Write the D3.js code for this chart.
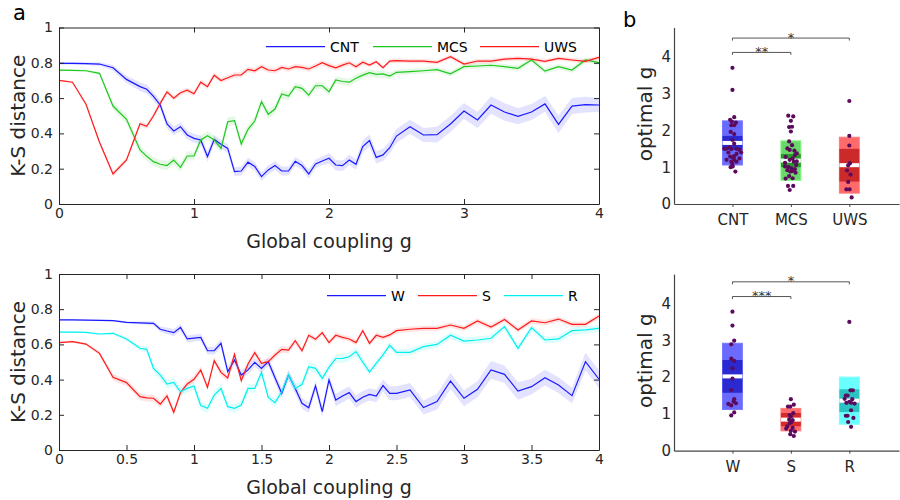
<!DOCTYPE html>
<html><head><meta charset="utf-8">
<script src="https://cdn.jsdelivr.net/npm/d3@7"></script>
<style>body{margin:0;background:#fff} svg{display:block} text{font-family:"DejaVu Sans",sans-serif}</style>
</head><body><svg id="c" width="900" height="500"></svg>
<script>
// ---------- DATA ----------
const couplingG = [0,0.1,0.2,0.3,0.4,0.5,0.6,0.65,0.7,0.75,
 0.8,0.85,0.9,0.95,1.0,1.05,1.1,1.15,1.2,1.25,
 1.3,1.35,1.4,1.45,1.5,1.55,1.6,1.65,1.7,1.75,
 1.8,1.85,1.9,1.95,2.0,2.05,2.1,2.15,2.2,2.25,
 2.3,2.35,2.4,2.45,2.5,2.6,2.7,2.8,2.9,3.0,
 3.1,3.2,3.3,3.4,3.5,3.6,3.7,3.8,3.9,4.0];

const ksCNT = [0.797,0.797,0.795,0.793,0.772,0.706,0.665,0.650,0.610,0.561,
 0.454,0.414,0.438,0.391,0.372,0.363,0.269,0.366,0.338,0.315,
 0.183,0.187,0.237,0.213,0.155,0.193,0.218,0.187,0.187,0.242,
 0.218,0.170,0.227,0.244,0.259,0.221,0.217,0.249,0.225,0.325,
 0.359,0.264,0.278,0.319,0.385,0.438,0.391,0.393,0.453,0.527,
 0.476,0.561,0.521,0.497,0.521,0.567,0.451,0.555,0.563,0.561];
const ksMCS = [0.759,0.757,0.755,0.740,0.555,0.480,0.306,0.270,0.240,0.225,
 0.218,0.249,0.208,0.272,0.272,0.363,0.387,0.363,0.315,0.466,
 0.472,0.340,0.423,0.470,0.580,0.508,0.538,0.623,0.612,0.665,
 0.655,0.617,0.670,0.670,0.636,0.703,0.694,0.690,0.712,0.730,
 0.744,0.735,0.737,0.725,0.746,0.750,0.755,0.761,0.738,0.778,
 0.782,0.786,0.778,0.769,0.816,0.753,0.778,0.759,0.816,0.801];
const ksUWS = [0.700,0.690,0.565,0.350,0.170,0.250,0.455,0.440,0.500,0.570,
 0.635,0.600,0.630,0.645,0.625,0.690,0.665,0.730,0.700,0.715,
 0.731,0.731,0.763,0.755,0.778,0.759,0.755,0.774,0.765,0.778,
 0.774,0.765,0.782,0.801,0.784,0.772,0.787,0.800,0.778,0.803,
 0.787,0.806,0.772,0.810,0.812,0.810,0.810,0.803,0.835,0.793,
 0.810,0.810,0.821,0.825,0.821,0.808,0.825,0.816,0.808,0.831];

const errCNT = [0.008,0.008,0.008,0.010,0.015,0.020,0.025,0.025,0.025,0.025,
 0.025,0.025,0.025,0.025,0.025,0.025,0.030,0.025,0.025,0.025,
 0.025,0.025,0.025,0.025,0.025,0.025,0.025,0.025,0.025,0.025,
 0.025,0.025,0.025,0.025,0.030,0.030,0.030,0.030,0.030,0.035,
 0.035,0.035,0.035,0.035,0.040,0.040,0.040,0.045,0.045,0.045,
 0.045,0.050,0.050,0.045,0.045,0.045,0.050,0.045,0.045,0.040];
const errMCS = [0.005,0.005,0.005,0.010,0.020,0.025,0.025,0.025,0.025,0.025,
 0.025,0.025,0.025,0.025,0.025,0.025,0.025,0.025,0.025,0.025,
 0.025,0.025,0.025,0.025,0.025,0.025,0.025,0.025,0.025,0.020,
 0.020,0.020,0.020,0.020,0.020,0.020,0.020,0.020,0.020,0.020,
 0.020,0.020,0.020,0.020,0.015,0.015,0.015,0.015,0.015,0.015,
 0.015,0.015,0.015,0.015,0.015,0.015,0.015,0.015,0.015,0.015];
const errUWS = [0.005,0.005,0.008,0.012,0.015,0.015,0.015,0.015,0.015,0.015,
 0.015,0.015,0.015,0.015,0.015,0.015,0.015,0.015,0.015,0.015,
 0.015,0.015,0.015,0.015,0.015,0.015,0.015,0.015,0.015,0.015,
 0.015,0.015,0.015,0.015,0.015,0.015,0.015,0.015,0.015,0.015,
 0.012,0.012,0.012,0.012,0.012,0.012,0.012,0.012,0.012,0.012,
 0.012,0.012,0.012,0.012,0.012,0.012,0.012,0.012,0.012,0.012];

const ksW = [0.739,0.739,0.738,0.737,0.735,0.725,0.722,0.721,0.720,0.686,
 0.676,0.667,0.696,0.631,0.636,0.640,0.564,0.564,0.606,0.445,
 0.511,0.426,0.455,0.498,0.464,0.502,0.410,0.322,0.426,0.350,
 0.265,0.240,0.364,0.218,0.398,0.284,0.307,0.326,0.275,0.300,
 0.316,0.307,0.366,0.322,0.322,0.341,0.241,0.275,0.392,0.294,
 0.345,0.455,0.430,0.335,0.360,0.411,0.369,0.309,0.502,0.402];
const ksS = [0.610,0.616,0.602,0.549,0.413,0.383,0.303,0.296,0.294,0.261,
 0.307,0.214,0.326,0.375,0.402,0.455,0.356,0.508,0.441,0.409,
 0.544,0.394,0.489,0.553,0.492,0.502,0.540,0.572,0.568,0.621,
 0.564,0.652,0.629,0.667,0.610,0.652,0.640,0.631,0.610,0.678,
 0.606,0.652,0.640,0.654,0.678,0.686,0.691,0.691,0.710,0.691,
 0.733,0.699,0.742,0.682,0.733,0.723,0.744,0.714,0.714,0.761];
const ksR = [0.670,0.670,0.668,0.659,0.663,0.631,0.578,0.572,0.464,0.426,
 0.375,0.384,0.331,0.350,0.364,0.252,0.237,0.312,0.350,0.246,
 0.237,0.256,0.350,0.350,0.441,0.299,0.269,0.331,0.426,0.350,
 0.373,0.473,0.464,0.407,0.470,0.520,0.521,0.530,0.559,0.500,
 0.443,0.492,0.540,0.595,0.555,0.555,0.587,0.600,0.652,0.619,
 0.625,0.635,0.701,0.578,0.695,0.625,0.631,0.678,0.682,0.691];

const errW = [0.004,0.004,0.004,0.004,0.005,0.006,0.008,0.010,0.012,0.015,
 0.018,0.020,0.020,0.020,0.020,0.020,0.022,0.022,0.025,0.025,
 0.025,0.025,0.025,0.025,0.025,0.025,0.030,0.030,0.030,0.030,
 0.030,0.030,0.030,0.030,0.030,0.035,0.035,0.035,0.035,0.035,
 0.035,0.035,0.035,0.040,0.040,0.040,0.040,0.045,0.045,0.045,
 0.045,0.050,0.050,0.050,0.045,0.045,0.045,0.045,0.050,0.050];
const errS = [0.005,0.006,0.008,0.012,0.018,0.020,0.020,0.020,0.020,0.020,
 0.020,0.020,0.020,0.020,0.020,0.020,0.020,0.020,0.020,0.020,
 0.020,0.020,0.020,0.020,0.020,0.020,0.020,0.020,0.020,0.020,
 0.015,0.015,0.015,0.015,0.015,0.015,0.015,0.015,0.015,0.015,
 0.015,0.015,0.015,0.015,0.015,0.015,0.015,0.015,0.015,0.015,
 0.015,0.015,0.015,0.015,0.015,0.015,0.015,0.015,0.015,0.015];
const errR = [0.004,0.004,0.005,0.006,0.008,0.012,0.015,0.020,0.025,0.025,
 0.025,0.025,0.025,0.025,0.025,0.025,0.025,0.025,0.025,0.025,
 0.025,0.025,0.025,0.025,0.025,0.025,0.025,0.025,0.025,0.025,
 0.025,0.025,0.025,0.025,0.025,0.025,0.025,0.025,0.025,0.025,
 0.020,0.020,0.020,0.020,0.020,0.020,0.020,0.020,0.020,0.020,
 0.020,0.020,0.020,0.020,0.020,0.020,0.020,0.020,0.020,0.020];

const ticksTopX = [0,1,2,3,4];
const ticksBotX = [0,0.5,1,1.5,2,2.5,3,3.5,4];
const ticksKS = [0,0.2,0.4,0.6,0.8,1];
const ticksOpt = [0,1,2,3,4];

const groupsTop = ["CNT","MCS","UWS"];
const groupsBot = ["W","S","R"];

// optimal g: individual values and horizontal jitter (category units)
const optCNT = [3.70,3.10,2.36,2.29,2.24,2.21,2.14,2.14,1.96,1.90,1.74,1.64,1.54,1.50,1.50,1.49,1.50,1.47,1.40,1.40,1.36,1.30,1.29,1.27,1.24,1.20,1.20,1.15,1.15,1.09,1.02,1.00,0.88];
const jitCNT = [0,0,0.03,-0.04,-0.01,0.06,-0.02,0.03,-0.03,0.03,0,0.03,-0.05,-0.14,-0.11,-0.02,0.07,0.12,0.15,-0.07,0.07,0.03,-0.04,0,0.12,0.03,-0.1,-0.02,0.07,0,0.005,-0.03,0.05];
const optMCS = [2.40,2.38,2.26,2.10,2.09,1.97,1.70,1.60,1.51,1.47,1.45,1.38,1.33,1.28,1.24,1.20,1.16,1.15,1.12,1.06,1.02,1.00,0.97,0.95,0.92,0.90,0.88,0.85,0.76,0.70,0.69,0.49,0.49,0.38];
const jitMCS = [-0.045,0.04,0,0.02,-0.03,0,-0.03,0.02,-0.06,-0.02,0.06,0.1,0.07,-0.09,0.03,-0.02,0.1,0.05,-0.1,0.09,-0.1,-0.04,0.01,0.07,-0.06,0.03,-0.01,0.08,-0.03,0.03,-0.09,-0.05,0.04,-0.02];
const optUWS = [2.80,1.85,1.59,1.11,1.05,0.91,0.80,0.60,0.40,0.40,0.18];
const jitUWS = [0,0,0,0.01,-0.02,-0.04,0.02,-0.02,-0.05,0.005,0.04];
const optW = [3.78,3.40,2.99,2.89,2.50,2.44,2.24,1.96,1.65,1.40,1.34,1.29,1.27,1.23,1.04,0.96];
const jitW = [0,0,0.03,-0.02,-0.02,0.03,0,0,-0.02,0.03,0.02,0.06,-0.07,-0.02,0.03,-0.02];
const optS = [1.40,1.25,1.20,1.20,1.02,0.97,0.93,0.85,0.83,0.78,0.75,0.66,0.62,0.60,0.54,0.52,0.45,0.40];
const jitS = [0,0.05,-0.05,-0.01,0.04,-0.02,0,-0.03,0.03,0.01,-0.02,-0.06,0.03,-0.08,0,0.07,-0.01,0.05];
const optR = [3.50,1.64,1.64,1.50,1.50,1.41,1.40,1.33,1.30,1.30,1.28,1.10,0.95,0.95,0.89,0.78,0.65];
const jitR = [0,0.02,0.06,-0.06,-0.03,-0.08,0.05,0,-0.05,0.03,0.09,0.03,-0.06,-0.03,0.07,-0.02,0.03];

// summary: mean, SD (light box), CI (dark box)
const meanTop = [1.66,1.18,1.055];
const sdTop = [0.60,0.535,0.76];
const ciTop = [0.19,0.18,0.445];
const meanBot = [2.02,0.845,1.36];
const sdBot = [0.90,0.305,0.64];
const ciBot = [0.445,0.18,0.31];

const sigTop = [{a:1,b:2,label:"**",h:4.12},{a:1,b:3,label:"*",h:4.51}];
const sigBot = [{a:1,b:2,label:"***",h:4.19},{a:1,b:3,label:"*",h:4.59}];

// ---------- DRAW ----------
const svg = d3.select("#c");
const AX = "#262626";

function linePanel(yTop, yBot, xTicks, series, legend, labelY){
  const x = d3.scaleLinear().domain([0,4]).range([59,599]);
  const y = d3.scaleLinear().domain([0,1]).range([yBot,yTop]);
  const g = svg.append("g");
  series.forEach(s=>{
    const d = couplingG.map((gv,i)=>({g:gv,v:s.vals[i],e:s.err[i]}));
    g.append("path").datum(d)
      .attr("d", d3.area().x(p=>x(p.g)).y0(p=>y(p.v-p.e)).y1(p=>y(p.v+p.e)))
      .attr("fill", s.color).attr("fill-opacity",0.12).attr("stroke","none");
  });
  series.forEach(s=>{
    const d = couplingG.map((gv,i)=>({g:gv,v:s.vals[i]}));
    g.append("path").datum(d)
      .attr("d", d3.line().x(p=>x(p.g)).y(p=>y(p.v)))
      .attr("fill","none").attr("stroke", s.color).attr("stroke-width",1.2);
  });
  const fmt = v=>String(v);
  const axB = g.append("g").attr("transform",`translate(0,${yBot})`)
    .call(d3.axisBottom(x).tickValues(xTicks).tickFormat(fmt).tickSizeInner(-5).tickSizeOuter(0).tickPadding(4));
  const axT = g.append("g").attr("transform",`translate(0,${yTop})`)
    .call(d3.axisTop(x).tickValues(xTicks).tickFormat("").tickSizeInner(-5).tickSizeOuter(0));
  const axL = g.append("g").attr("transform",`translate(59,0)`)
    .call(d3.axisLeft(y).tickValues(ticksKS).tickFormat(fmt).tickSizeInner(-5).tickSizeOuter(0).tickPadding(6));
  const axR = g.append("g").attr("transform",`translate(599,0)`)
    .call(d3.axisRight(y).tickValues(ticksKS).tickFormat("").tickSizeInner(-5).tickSizeOuter(0));
  [axB,axT,axL,axR].forEach(a=>{
    a.select(".domain").attr("stroke",AX);
    a.selectAll(".tick line").attr("stroke",AX);
    a.selectAll("text").attr("fill",AX).attr("font-size",14).attr("font-family","DejaVu Sans");
  });
  legend.items.forEach((it,i)=>{
    const lx = legend.x[i];
    g.append("line").attr("x1",lx).attr("x2",lx+59).attr("y1",legend.y).attr("y2",legend.y)
      .attr("stroke",it.color).attr("stroke-width",1.2);
    g.append("text").attr("x",lx+64).attr("y",legend.y+5).attr("font-size",14).attr("fill","#000").text(it.name);
  });
  g.append("text").attr("x",329).attr("y",labelY).attr("text-anchor","middle").attr("font-size",19).attr("fill",AX).text("Global coupling g");
  g.append("text").attr("transform",`translate(25,${(yTop+yBot)/2}) rotate(-90)`).attr("text-anchor","middle").attr("font-size",20).attr("fill",AX).text("K-S distance");
}

const cBlue="#1a1aff", cGreen="#1ec81e", cRed="#ff1a1a", cCyan="#00f0f0";

linePanel(27.5,204,ticksTopX,[
  {vals:ksCNT,err:errCNT,color:cBlue},
  {vals:ksMCS,err:errMCS,color:cGreen},
  {vals:ksUWS,err:errUWS,color:cRed}],
  {items:[{name:"CNT",color:cBlue},{name:"MCS",color:cGreen},{name:"UWS",color:cRed}], x:[266,373,480], y:46.7}, 248);

linePanel(274,450,ticksBotX,[
  {vals:ksW,err:errW,color:cBlue},
  {vals:ksS,err:errS,color:cRed},
  {vals:ksR,err:errR,color:cCyan}],
  {items:[{name:"W",color:cBlue},{name:"S",color:cRed},{name:"R",color:cCyan}], x:[327,418,504], y:295.7}, 494);

function boxPanel(y0, groups, pts, jits, means, sds, cis, light, dark, sig, labPad){
  const x = d3.scaleLinear().domain([0,3.85]).range([674,899]);
  const y = d3.scaleLinear().domain([0,4.8]).range([y0, y0-176.6]);
  const g = svg.append("g");
  const hw = x(1.17)-x(1);
  groups.forEach((name,i)=>{
    const cx = x(i+1);
    g.append("rect").attr("x",cx-hw).attr("width",2*hw)
      .attr("y",y(means[i]+sds[i])).attr("height",y(means[i]-sds[i])-y(means[i]+sds[i]))
      .attr("fill",light[i]).attr("stroke",d3.color(light[i]).brighter(0.4)).attr("stroke-width",1);
    g.append("rect").attr("x",cx-hw).attr("width",2*hw)
      .attr("y",y(means[i]+cis[i])).attr("height",y(means[i]-cis[i])-y(means[i]+cis[i]))
      .attr("fill",dark[i]);
    g.append("line").attr("x1",cx-hw).attr("x2",cx+hw).attr("y1",y(means[i])).attr("y2",y(means[i]))
      .attr("stroke","#fff").attr("stroke-width",4);
  });
  groups.forEach((name,i)=>{
    g.selectAll(null).data(pts[i].map((v,k)=>({v,j:jits[i][k]}))).enter().append("circle")
      .attr("cx",d=>x(i+1+d.j)).attr("cy",d=>y(d.v)).attr("r",2.1).attr("fill","#5c0b5c");
  });
  const axL = g.append("g").attr("transform","translate(674,0)")
    .call(d3.axisLeft(y).tickValues(ticksOpt).tickFormat(d3.format("d")).tickSizeInner(0).tickSizeOuter(0).tickPadding(3));
  const axB = g.append("g").attr("transform",`translate(0,${y0})`)
    .call(d3.axisBottom(x).tickValues([1,2,3]).tickFormat(d=>groups[d-1]).tickSizeInner(3).tickSizeOuter(0).tickPadding(labPad));
  [axL,axB].forEach(a=>{
    a.select(".domain").attr("stroke","#444").attr("stroke-width",1.2);
    a.selectAll(".tick line").attr("stroke","#444");
    a.selectAll("text").attr("fill","#262626").attr("font-size",15).attr("font-family","DejaVu Sans");
  });
  sig.forEach(s=>{
    const yy = y(s.h);
    g.append("path").attr("d",`M${x(s.a)},${yy+2.5}V${yy}H${x(s.b)}V${yy+2.5}`)
      .attr("fill","none").attr("stroke","#555").attr("stroke-width",1);
    g.append("text").attr("x",(x(s.a)+x(s.b))/2).attr("y",yy+3.5).attr("text-anchor","middle")
      .attr("font-size",13).attr("fill","#333").text(s.label);
  });
  g.append("text").attr("transform",`translate(652,${y0-90}) rotate(-90)`).attr("text-anchor","middle")
    .attr("font-size",20).attr("fill","#262626").text("optimal g");
}

boxPanel(204, groupsTop, [optCNT,optMCS,optUWS],[jitCNT,jitMCS,jitUWS], meanTop, sdTop, ciTop,
  ["#6a6aff","#6ad86a","#ff6a6a"],["#2a2ad0","#2a9a2a","#cc2a2a"], sigTop, 7);
boxPanel(450.7, groupsBot, [optW,optS,optR],[jitW,jitS,jitR], meanBot, sdBot, ciBot,
  ["#6a6aff","#ff6a6a","#6affff"],["#2a2ad0","#d42a2a","#2ac2c2"], sigBot, 8);

svg.append("text").attr("x",13).attr("y",20).attr("font-size",21).attr("fill","#000").text("a");
svg.append("text").attr("x",623).attr("y",26.5).attr("font-size",21).attr("fill","#000").text("b");
</script></body></html>
